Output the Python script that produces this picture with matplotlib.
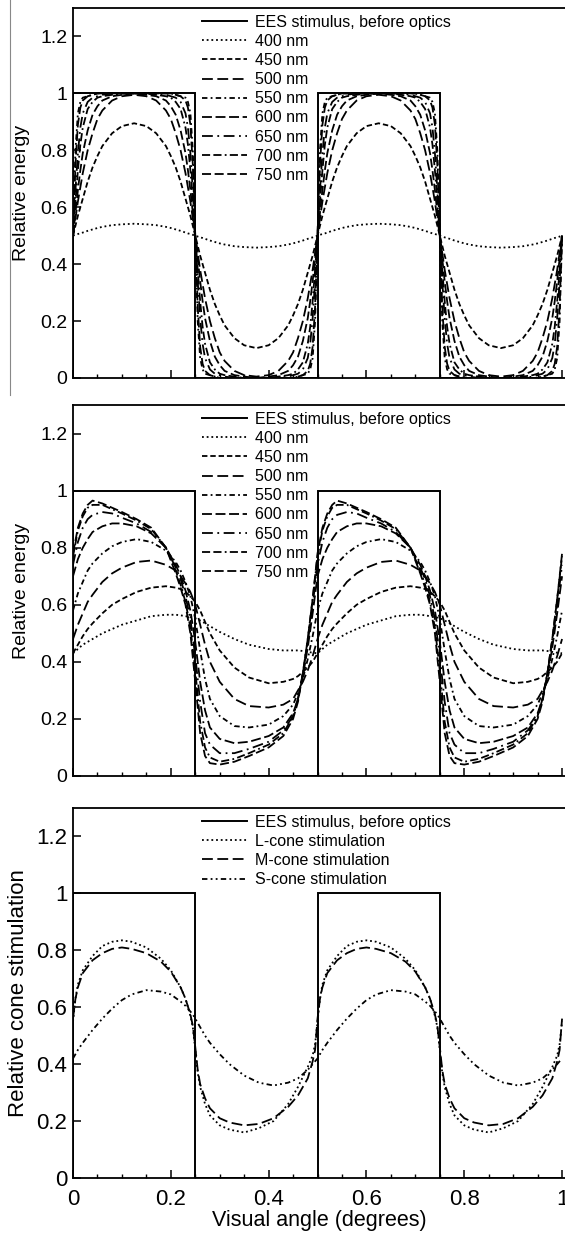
import numpy as np
import matplotlib
matplotlib.use("Agg")
import matplotlib.pyplot as plt
from matplotlib.lines import Line2D
from matplotlib.ticker import MultipleLocator, FuncFormatter

plt.rcParams['font.family'] = ['Liberation Sans', 'DejaVu Sans']

# square-wave stimulus
stim_edges = [0.0, 0.25, 0.5, 0.75, 1.0]
stim_levels = [1, 0, 1, 0]

# ---- panel 1: one period (0 .. 0.5), repeated ----
x1 = [0, .005, .01, .015, .02, .03, .04, .05, .06, .08, .10, .125, .15, .17, .19, .20, .21, .22, .23, .235, .24, .245,
      .25, .255, .26, .265, .27, .28, .29, .30, .31, .33, .35, .375, .40, .42, .44, .45, .46, .47, .48, .485, .49, .495]
p1_400 = [0.5, 0.503, 0.506, 0.508, 0.511, 0.517, 0.522, 0.527, 0.531, 0.537, 0.540, 0.542, 0.540, 0.537, 0.531, 0.527, 0.522, 0.517, 0.511, 0.508, 0.506, 0.503,
          0.5, 0.497, 0.494, 0.492, 0.489, 0.483, 0.478, 0.473, 0.469, 0.463, 0.460, 0.458, 0.460, 0.463, 0.469, 0.473, 0.478, 0.483, 0.489, 0.492, 0.494, 0.497]
p1_450 = [0.5, 0.535, 0.57, 0.60, 0.63, 0.69, 0.74, 0.78, 0.815, 0.86, 0.885, 0.895, 0.885, 0.86, 0.815, 0.78, 0.74, 0.69, 0.63, 0.60, 0.57, 0.535,
          0.5, 0.465, 0.43, 0.40, 0.37, 0.31, 0.26, 0.22, 0.185, 0.14, 0.115, 0.105, 0.115, 0.14, 0.185, 0.22, 0.26, 0.31, 0.37, 0.40, 0.43, 0.465]
p1_500 = [0.5, 0.56, 0.62, 0.67, 0.72, 0.80, 0.86, 0.91, 0.94, 0.975, 0.99, 0.995, 0.99, 0.975, 0.94, 0.91, 0.86, 0.80, 0.72, 0.67, 0.62, 0.56,
          0.5, 0.44, 0.38, 0.33, 0.28, 0.20, 0.14, 0.09, 0.06, 0.025, 0.01, 0.005, 0.01, 0.025, 0.06, 0.09, 0.14, 0.20, 0.28, 0.33, 0.38, 0.44]
p1_550 = [0.5, 0.80, 0.93, 0.97, 0.985, 0.99, 0.995, 1.0, 1.0, 1.0, 1.0, 1.0, 1.0, 1.0, 1.0, 1.0, 0.995, 0.99, 0.985, 0.97, 0.93, 0.80,
          0.5, 0.20, 0.07, 0.03, 0.015, 0.01, 0.005, 0.0, 0.0, 0.0, 0.0, 0.0, 0.0, 0.0, 0.0, 0.0, 0.005, 0.01, 0.015, 0.03, 0.07, 0.20]
p1_600 = [0.5, 0.75, 0.89, 0.95, 0.975, 0.99, 0.995, 1.0, 1.0, 1.0, 1.0, 1.0, 1.0, 1.0, 1.0, 1.0, 0.995, 0.99, 0.975, 0.95, 0.89, 0.75,
          0.5, 0.25, 0.11, 0.05, 0.025, 0.01, 0.005, 0.0, 0.0, 0.0, 0.0, 0.0, 0.0, 0.0, 0.0, 0.0, 0.005, 0.01, 0.025, 0.05, 0.11, 0.25]
p1_650 = [0.5, 0.66, 0.79, 0.88, 0.93, 0.97, 0.985, 0.99, 0.995, 1.0, 1.0, 1.0, 1.0, 1.0, 0.995, 0.99, 0.985, 0.97, 0.93, 0.88, 0.79, 0.66,
          0.5, 0.34, 0.21, 0.12, 0.07, 0.03, 0.015, 0.01, 0.005, 0.0, 0.0, 0.0, 0.0, 0.0, 0.005, 0.01, 0.015, 0.03, 0.07, 0.12, 0.21, 0.34]
p1_700 = [0.5, 0.62, 0.73, 0.82, 0.88, 0.945, 0.97, 0.985, 0.99, 0.995, 1.0, 1.0, 1.0, 0.995, 0.99, 0.985, 0.97, 0.945, 0.88, 0.82, 0.73, 0.62,
          0.5, 0.38, 0.27, 0.18, 0.12, 0.055, 0.03, 0.015, 0.01, 0.005, 0.0, 0.0, 0.0, 0.005, 0.01, 0.015, 0.03, 0.055, 0.12, 0.18, 0.27, 0.38]
p1_750 = [0.5, 0.58, 0.66, 0.73, 0.79, 0.87, 0.925, 0.955, 0.975, 0.99, 0.995, 1.0, 0.995, 0.99, 0.975, 0.955, 0.925, 0.87, 0.79, 0.73, 0.66, 0.58,
          0.5, 0.42, 0.34, 0.27, 0.21, 0.13, 0.075, 0.045, 0.025, 0.01, 0.005, 0.0, 0.005, 0.01, 0.025, 0.045, 0.075, 0.13, 0.21, 0.27, 0.34, 0.42]

# ---- panel 2: one period (0 .. 0.5), repeated ----
x2 = [0, 0.01, 0.02, 0.03, 0.04, 0.06, 0.08, 0.10, 0.13, 0.16, 0.19, 0.21, 0.22, 0.23, 0.24, 0.25, 0.26, 0.27, 0.28,
      0.30, 0.33, 0.36, 0.40, 0.43, 0.45, 0.46, 0.47, 0.48, 0.49]
p2_400 = [0.43, 0.445, 0.46, 0.47, 0.48, 0.50, 0.515, 0.53, 0.545, 0.56, 0.565, 0.565, 0.563, 0.56, 0.557, 0.553, 0.545, 0.535, 0.525,
          0.505, 0.48, 0.46, 0.445, 0.44, 0.44, 0.44, 0.438, 0.435, 0.432]
p2_450 = [0.43, 0.46, 0.49, 0.515, 0.535, 0.57, 0.60, 0.62, 0.645, 0.66, 0.665, 0.66, 0.655, 0.645, 0.63, 0.61, 0.58, 0.54, 0.50,
          0.44, 0.38, 0.345, 0.325, 0.33, 0.34, 0.35, 0.365, 0.38, 0.40]
p2_500 = [0.48, 0.53, 0.57, 0.61, 0.635, 0.68, 0.71, 0.73, 0.75, 0.755, 0.74, 0.72, 0.70, 0.675, 0.645, 0.60, 0.53, 0.46, 0.40,
          0.33, 0.27, 0.245, 0.24, 0.25, 0.27, 0.30, 0.33, 0.37, 0.42]
p2_550 = [0.58, 0.64, 0.68, 0.72, 0.745, 0.78, 0.805, 0.82, 0.83, 0.82, 0.79, 0.75, 0.72, 0.68, 0.63, 0.55, 0.44, 0.34, 0.27,
          0.21, 0.175, 0.17, 0.18, 0.21, 0.25, 0.29, 0.34, 0.41, 0.49]
p2_600 = [0.70, 0.76, 0.80, 0.83, 0.855, 0.875, 0.885, 0.885, 0.875, 0.85, 0.80, 0.74, 0.70, 0.65, 0.58, 0.47, 0.33, 0.23, 0.17,
          0.13, 0.115, 0.12, 0.14, 0.17, 0.22, 0.27, 0.35, 0.45, 0.57]
p2_650 = [0.74, 0.82, 0.87, 0.90, 0.915, 0.925, 0.92, 0.905, 0.885, 0.855, 0.80, 0.73, 0.69, 0.63, 0.55, 0.42, 0.26, 0.15, 0.11,
          0.08, 0.08, 0.095, 0.12, 0.16, 0.21, 0.27, 0.36, 0.47, 0.60]
p2_700 = [0.77, 0.86, 0.91, 0.94, 0.95, 0.95, 0.935, 0.92, 0.895, 0.865, 0.80, 0.72, 0.67, 0.61, 0.52, 0.37, 0.19, 0.10, 0.065,
          0.05, 0.06, 0.08, 0.11, 0.15, 0.21, 0.27, 0.36, 0.48, 0.62]
p2_750 = [0.78, 0.87, 0.92, 0.95, 0.965, 0.955, 0.94, 0.925, 0.90, 0.87, 0.80, 0.71, 0.66, 0.60, 0.50, 0.33, 0.15, 0.07, 0.045,
          0.04, 0.05, 0.07, 0.10, 0.14, 0.20, 0.26, 0.36, 0.48, 0.62]

# ---- panel 3: one period (0 .. 0.5), repeated ----
x3 = [0, .005, .01, .02, .04, .06, .08, .10, .12, .15, .18, .20, .22, .23, .24, .245, .25, .255, .26, .27, .28,
      .30, .32, .35, .38, .41, .44, .46, .48, .49, .495]
cone_L = [0.55, 0.63, 0.68, 0.73, 0.78, 0.815, 0.83, 0.835, 0.83, 0.81, 0.77, 0.73, 0.67, 0.63, 0.57, 0.53, 0.45, 0.37, 0.32, 0.26, 0.22,
          0.185, 0.17, 0.16, 0.175, 0.20, 0.26, 0.32, 0.39, 0.43, 0.47]
cone_M = [0.56, 0.63, 0.67, 0.72, 0.765, 0.79, 0.805, 0.81, 0.805, 0.79, 0.76, 0.725, 0.67, 0.63, 0.575, 0.535, 0.46, 0.38, 0.33, 0.28, 0.245,
          0.21, 0.195, 0.185, 0.19, 0.21, 0.25, 0.29, 0.35, 0.41, 0.45]
cone_S = [0.42, 0.435, 0.45, 0.475, 0.52, 0.56, 0.595, 0.625, 0.645, 0.66, 0.655, 0.645, 0.62, 0.605, 0.585, 0.575, 0.56, 0.545, 0.53, 0.50, 0.475,
          0.435, 0.40, 0.36, 0.335, 0.325, 0.335, 0.35, 0.38, 0.40, 0.41]

wl_labels = ['400 nm', '450 nm', '500 nm', '550 nm', '600 nm', '650 nm', '700 nm', '750 nm']
cone_labels = ['L-cone stimulation', 'M-cone stimulation', 'S-cone stimulation']

wl_styles = [(0, (1, 1.6)), (0, (3, 1.6)), (0, (6, 2.5)), (0, (3, 1.8, 1, 1.8)),
             (0, (5.5, 2)), (0, (6, 2.5, 1, 2.5)), (0, (4.5, 1.8, 4.5, 1.8, 1, 1.8)), (0, (5, 2))]
cone_styles = [(0, (1, 1.6)), (0, (6, 2.5)), (0, (3, 1.8, 1, 1.8, 1, 1.8))]


def two_periods(x, y):
    xs = np.concatenate([np.array(x), np.array(x) + 0.5, [1.0]])
    ys = np.concatenate([np.array(y), np.array(y), [y[0]]])
    return xs, ys


def setup_axes(ax, show_xlabels, tick_size):
    ax.set_xlim(0, 1.006)
    ax.set_ylim(0, 1.3)
    ax.spines['right'].set_visible(False)
    for s in ['left', 'top', 'bottom']:
        ax.spines[s].set_linewidth(1.3)
    ax.xaxis.set_major_locator(MultipleLocator(0.2))
    ax.xaxis.set_minor_locator(MultipleLocator(0.05))
    ax.yaxis.set_major_locator(MultipleLocator(0.2))
    fmt = FuncFormatter(lambda v, p: '%g' % round(v, 2))
    ax.xaxis.set_major_formatter(fmt)
    ax.yaxis.set_major_formatter(fmt)
    ax.tick_params(which='major', direction='in', length=6, width=1.1, labelsize=tick_size, pad=4)
    ax.tick_params(which='minor', direction='in', length=3, width=1.0)
    ax.tick_params(axis='x', pad=8)
    ax.tick_params(top=False, right=False)
    if not show_xlabels:
        ax.tick_params(axis='x', labelbottom=False)


def add_legend(ax):
    ax.legend(loc='upper left', bbox_to_anchor=(0.262, 0.982), frameon=False, fontsize=11.5,
              handlelength=2.8, handletextpad=0.55, labelspacing=0.26, borderpad=0, borderaxespad=0)


fig = plt.figure(figsize=(5.65, 12.41), dpi=100)
H = 1241.0
W = 565.0
left = 73 / W
width = 1 - left

ax1 = fig.add_axes([left, 1 - 378 / H, width, 370 / H])
ax2 = fig.add_axes([left, 1 - 776 / H, width, 371 / H])
ax3 = fig.add_axes([left, 1 - 1178 / H, width, 370 / H])

panel1 = [p1_400, p1_450, p1_500, p1_550, p1_600, p1_650, p1_700, p1_750]
panel2 = [p2_400, p2_450, p2_500, p2_550, p2_600, p2_650, p2_700, p2_750]

for ax, xs, curves in [(ax1, x1, panel1), (ax2, x2, panel2)]:
    ax.stairs(stim_levels, stim_edges, baseline=0, color='black', lw=1.4, label='EES stimulus, before optics')
    for y, lab, ls in zip(curves, wl_labels, wl_styles):
        xx, yy = two_periods(xs, y)
        ax.plot(xx, yy, color='black', lw=1.3, linestyle=ls, label=lab)
    setup_axes(ax, False, 14)
    ax.set_ylabel('Relative energy', fontsize=14)
    ax.yaxis.set_label_coords(-0.087, 0.5)
    add_legend(ax)

ax3.stairs(stim_levels, stim_edges, baseline=0, color='black', lw=1.4, label='EES stimulus, before optics')
for y, lab, ls in zip([cone_L, cone_M, cone_S], cone_labels, cone_styles):
    xx, yy = two_periods(x3, y)
    ax3.plot(xx, yy, color='black', lw=1.3, linestyle=ls, label=lab)
setup_axes(ax3, True, 16)
ax3.set_ylabel('Relative cone stimulation', fontsize=16)
ax3.yaxis.set_label_coords(-0.09, 0.5)
ax3.set_xlabel('Visual angle (degrees)', fontsize=15.5, labelpad=0)
add_legend(ax3)

# thin frame line at the left of the top panel
fig.add_artist(Line2D([10 / W, 10 / W], [1.0, 1 - 395 / H], color='#888888', lw=0.8))

fig.savefig('out.png', dpi=100)
